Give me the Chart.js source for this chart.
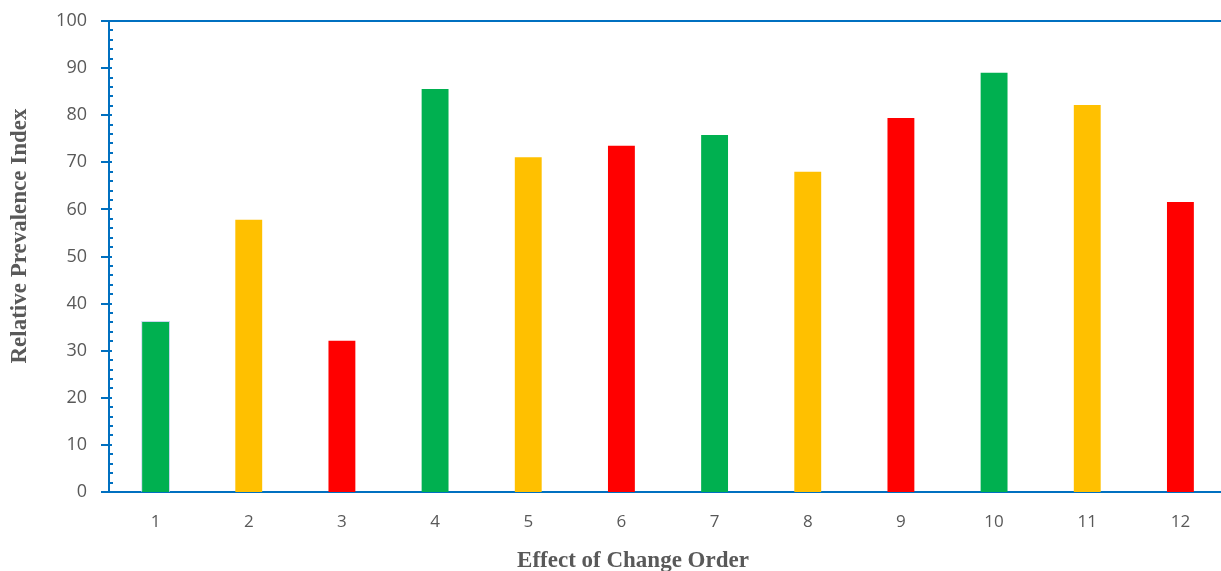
<!DOCTYPE html>
<html>
<head>
<meta charset="utf-8">
<script src="https://cdn.jsdelivr.net/npm/chart.js@4.4.0/dist/chart.umd.min.js"></script>
<style>
  html, body { margin: 0; padding: 0; background: #fff; overflow: hidden; }
  #wrap { width: 1221px; height: 571px; overflow: hidden; }
</style>
</head>
<body>
<div id="wrap"><canvas id="chart" width="1227" height="571"></canvas></div>
<script>
const categories = ['1', '2', '3', '4', '5', '6', '7', '8', '9', '10', '11', '12'];
const values = [36.3, 58.0, 32.3, 85.8, 71.3, 73.7, 76.0, 68.2, 79.6, 89.2, 82.4, 61.8];
const barColors = ['#00B050', '#FFC000', '#FF0000', '#00B050', '#FFC000', '#FF0000',
                   '#00B050', '#FFC000', '#FF0000', '#00B050', '#FFC000', '#FF0000'];
const yTicks = [0, 10, 20, 30, 40, 50, 60, 70, 80, 90, 100];
const xTitle = 'Effect of Change Order';
const yTitle = 'Relative Prevalence Index';

const axisBlue = '#0070C0';
const textGray = '#595959';
const titleFont = 'bold 23px "Liberation Serif"';

// ticks on the y axis (major crossing, minor inside), top border line, axis titles
const axisDecor = {
  id: 'axisDecor',
  afterDraw(chart) {
    const ctx = chart.ctx;
    const y = chart.scales.y;
    const area = chart.chartArea;
    const ax = area.left - 1;
    ctx.save();
    ctx.strokeStyle = axisBlue;
    ctx.lineWidth = 2;
    ctx.beginPath();
    ctx.moveTo(ax - 7, area.top);
    ctx.lineTo(area.right, area.top);
    ctx.stroke();
    for (let v = 0; v <= 100; v += 2) {
      const py = Math.round(y.getPixelForValue(v));
      ctx.beginPath();
      if (v % 10 === 0) {
        ctx.moveTo(ax - 7, py);
        ctx.lineTo(ax + 4, py);
      } else {
        ctx.moveTo(ax, py);
        ctx.lineTo(ax + 5, py);
      }
      ctx.stroke();
    }

    ctx.fillStyle = textGray;
    ctx.font = titleFont;
    ctx.textAlign = 'center';
    ctx.textBaseline = 'middle';
    ctx.fillText(xTitle, 633, 561);
    ctx.translate(20, 236);
    ctx.rotate(-Math.PI / 2);
    ctx.fillText(yTitle, 0, 0);
    ctx.restore();
  }
};

new Chart(document.getElementById('chart'), {
  type: 'bar',
  data: {
    labels: categories,
    datasets: [{
      data: values,
      backgroundColor: barColors,
      borderColor: ['rgba(190,205,235,0.8)'].concat(Array(11).fill('rgba(0,0,0,0)')),
      borderWidth: 1,
      categoryPercentage: 1,
      barPercentage: 0.31
    }]
  },
  options: {
    responsive: false,
    animation: false,
    layout: { padding: { left: 8, top: 21, right: 0, bottom: 0 } },
    plugins: { legend: { display: false }, tooltip: { enabled: false } },
    scales: {
      x: {
        grid: { display: false },
        border: { color: axisBlue, width: 2 },
        ticks: { color: textGray, font: { family: 'Open Sans', size: 17 }, padding: 12 },
        afterFit(scale) { scale.height = 79; scale.paddingLeft = 0; scale.paddingRight = 0; }
      },
      y: {
        min: 0,
        max: 100,
        afterBuildTicks(scale) { scale.ticks = yTicks.map(v => ({ value: v })); },
        grid: { display: false },
        border: { color: axisBlue, width: 2 },
        ticks: { color: textGray, font: { family: 'Open Sans', size: 18 }, padding: 14 },
        afterFit(scale) { scale.width = 101; scale.paddingTop = 0; scale.paddingBottom = 0; }
      }
    }
  },
  plugins: [axisDecor]
});
</script>
</body>
</html>
